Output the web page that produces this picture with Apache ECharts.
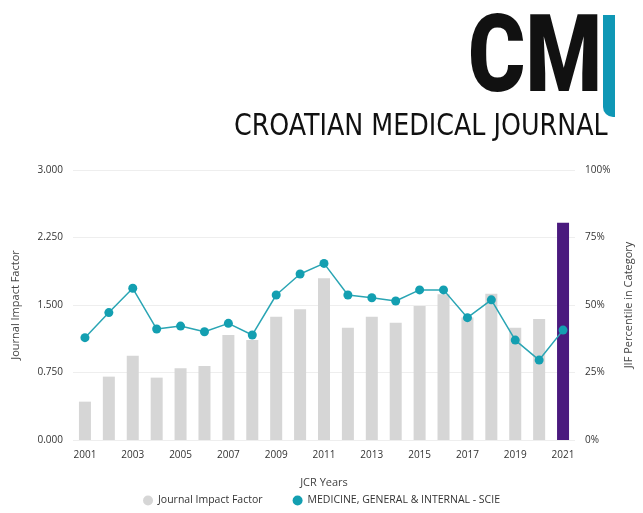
<!DOCTYPE html>
<html>
<head>
<meta charset="utf-8">
<script src="https://cdn.jsdelivr.net/npm/echarts@6/dist/echarts.min.js"></script>
<style>html,body{margin:0;padding:0;background:#fff}</style>
</head>
<body>
<div id="chart" style="width:643px;height:513px;"></div>
<script>
const years = ['2001','2002','2003','2004','2005','2006','2007','2008','2009','2010','2011',
  '2012','2013','2014','2015','2016','2017','2018','2019','2020','2021']
const jif = [0.426, 0.704, 0.937, 0.693, 0.796, 0.822, 1.167, 1.111, 1.370, 1.452, 1.796,
  1.248, 1.370, 1.304, 1.489, 1.619, 1.360, 1.625, 1.248, 1.344, 2.415]
const percentile = [37.9, 47.2, 56.2, 41.1, 42.2, 40.1, 43.2, 38.9, 53.7, 61.5, 65.4,
  53.7, 52.7, 51.5, 55.6, 55.6, 45.3, 51.9, 37.0, 29.6, 40.7]

const chart = echarts.init(document.getElementById('chart'))
const font = 'Open Sans'

chart.setOption({
  animation: false,
  backgroundColor: '#fff',
  textStyle: { fontFamily: font },
  graphic: [
    { type: 'text', x: 468, y: 10, scaleX: 0.81, style: { text: 'CM', font: '900 108px Roboto', fill: '#111' } },
    { type: 'rect', shape: { x: 603, y: 15, width: 12, height: 102, r: [0, 0, 0, 10] }, style: { fill: '#0f97b5' } },
    { type: 'text', x: 234, y: 112, scaleX: 0.94, style: { text: 'CROATIAN MEDICAL JOURNAL', font: '30px "DejaVu Sans Condensed"', fill: '#111' } }
  ],
  grid: { left: 73, right: 68, top: 170, bottom: 73 },
  legend: {
    bottom: 2, left: 'center', itemGap: 30, itemWidth: 10, itemHeight: 10,
    textStyle: { fontSize: 10.5, color: '#333', fontFamily: font },
    data: [
      { name: 'Journal Impact Factor', icon: 'circle', itemStyle: { color: '#d6d6d6' } },
      { name: 'MEDICINE, GENERAL & INTERNAL - SCIE', icon: 'circle' }
    ]
  },
  xAxis: {
    type: 'category', data: years,
    name: 'JCR Years', nameLocation: 'middle', nameGap: 37,
    nameTextStyle: { fontSize: 11, color: '#444' },
    axisLine: { show: false }, axisTick: { show: false },
    axisLabel: { interval: 1, fontSize: 10, color: '#333', margin: 10 }
  },
  yAxis: [
    {
      type: 'value', min: 0, max: 3, interval: 0.75,
      name: 'Journal Impact Factor', nameLocation: 'middle', nameGap: 52, nameRotate: 90,
      nameTextStyle: { fontSize: 11, color: '#444' },
      axisLabel: { formatter: v => v.toFixed(3), fontSize: 10, color: '#333', margin: 10 },
      splitLine: { lineStyle: { color: '#eeeeee' } }
    },
    {
      type: 'value', min: 0, max: 100, interval: 25,
      name: 'JIF Percentile in Category', nameLocation: 'middle', nameGap: 48, nameRotate: 90,
      nameTextStyle: { fontSize: 11, color: '#444' },
      axisLabel: { formatter: '{value}%', fontSize: 10, color: '#333', margin: 10 },
      splitLine: { show: false }
    }
  ],
  series: [
    {
      name: 'Journal Impact Factor', type: 'bar', barWidth: 12, yAxisIndex: 0,
      itemStyle: { color: '#d6d6d6' },
      data: jif.map((v, i) => i === jif.length - 1 ? { value: v, itemStyle: { color: '#4a1a7e' } } : v)
    },
    {
      name: 'MEDICINE, GENERAL & INTERNAL - SCIE', type: 'line', yAxisIndex: 1,
      data: percentile, symbol: 'circle', symbolSize: 9,
      lineStyle: { color: '#2aa5b4', width: 1.5 },
      itemStyle: { color: '#139fb1' }
    }
  ]
})
</script>
</body>
</html>
